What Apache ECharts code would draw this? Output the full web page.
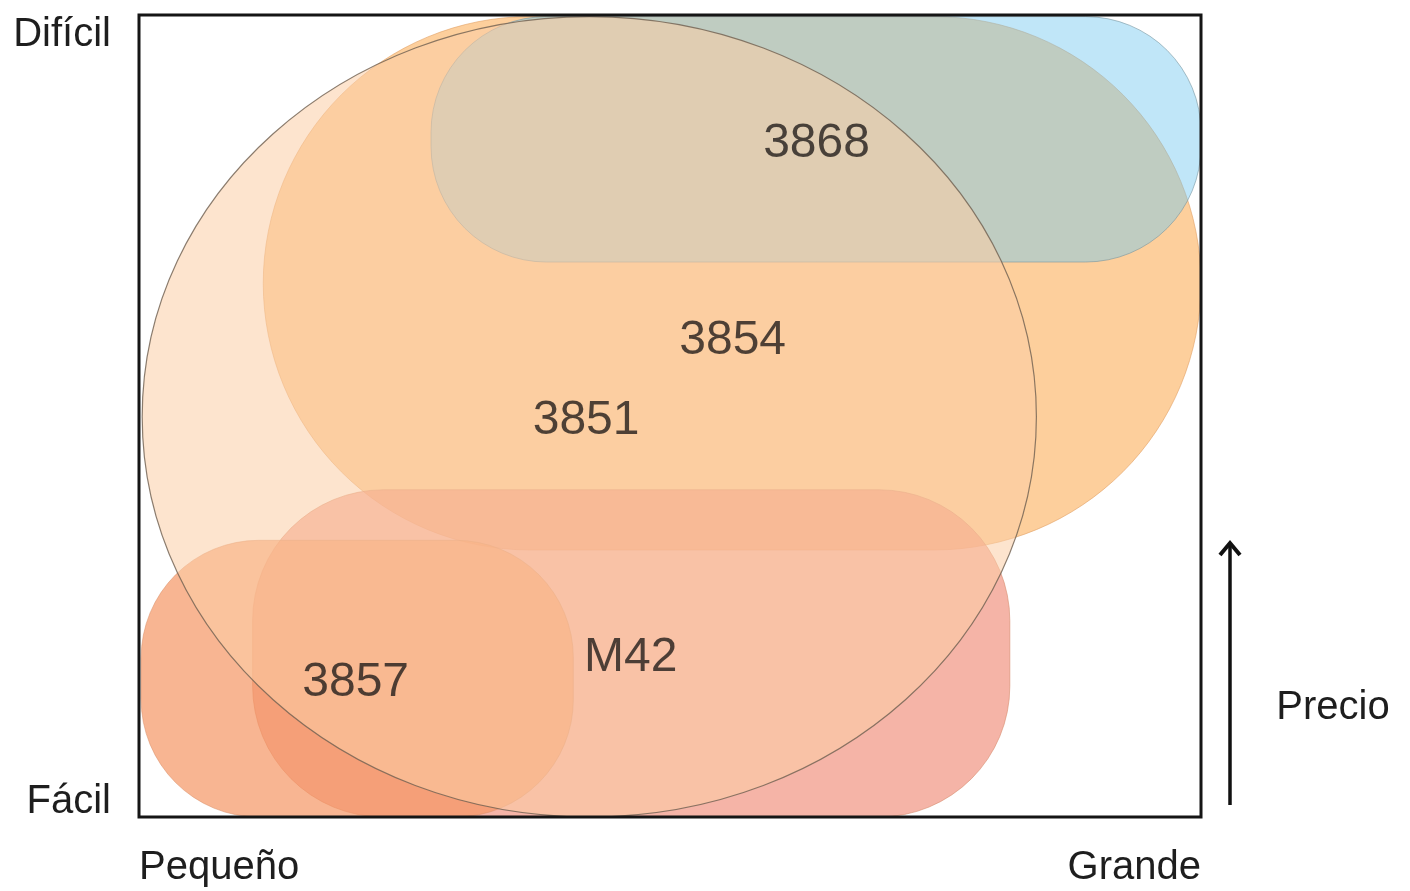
<!DOCTYPE html>
<html>
<head>
<meta charset="utf-8">
<script src="https://cdn.jsdelivr.net/npm/echarts@6/dist/echarts.min.js"></script>
<style>
  html, body { margin: 0; padding: 0; background: #fff; }
  #chart { width: 1410px; height: 891px; }
</style>
</head>
<body>
<div id="chart"></div>
<script>
// productos, en orden de dibujo (el de abajo primero)
const shapeNames = ['3854', '3868', 'M42', '3857', '3851'];
// extension en tamano (x) y dificultad/precio (y), escala 0-100
const xFrom = [11.7, 27.5, 10.7, 0.2, 0.3];
const xTo   = [100, 100, 82.0, 40.9, 84.5];
const yFrom = [33.3, 69.2, 0, 0, 0];
const yTo   = [99.8, 99.8, 40.8, 34.5, 99.8];
// donde va el nombre de cada producto
const labelX = [55.9, 63.8, 46.3, 20.4, 42.1];
const labelY = [59.4, 84.0, 19.8, 16.7, 49.4];
// textos de los extremos de los ejes
const xTickLabels = ['Pequeño', 'Grande'];
const yTickLabels = ['Fácil', 'Difícil'];

const FONT = '"Liberation Sans", Arial, sans-serif';

// forma y colores por producto
const shapeStyle = {
  '3854': { shape: 'rect', round: 1.0, fill: 'rgba(252,188,118,0.72)', stroke: 'rgba(225,160,100,0.6)', lw: 1 },
  '3868': { shape: 'rect', round: 0.94, fill: 'rgba(115,199,239,0.45)', stroke: 'rgba(120,150,160,0.6)', lw: 1 },
  'M42':  { shape: 'rect', round: 0.8, fill: 'rgba(240,140,120,0.65)', stroke: 'rgba(215,140,110,0.6)', lw: 1 },
  '3857': { shape: 'rect', round: 0.85, fill: 'rgba(245,150,100,0.7)', stroke: 'rgba(215,140,100,0.5)', lw: 1 },
  '3851': { shape: 'ellipse', fill: 'rgba(251,205,165,0.55)', stroke: 'rgba(110,95,80,0.8)', lw: 1.2 }
};

function renderShape(params, api) {
  const st = shapeStyle[shapeNames[params.dataIndex]];
  const tl = api.coord([api.value(0), api.value(3)]);
  const br = api.coord([api.value(1), api.value(2)]);
  const w = br[0] - tl[0], h = br[1] - tl[1];
  const style = { fill: st.fill, stroke: st.stroke, lineWidth: st.lw };
  if (st.shape === 'ellipse') {
    return { type: 'ellipse', shape: { cx: tl[0] + w / 2, cy: tl[1] + h / 2, rx: w / 2, ry: h / 2 }, style: style };
  }
  return { type: 'rect', shape: { x: tl[0], y: tl[1], width: w, height: h, r: st.round * Math.min(w, h) / 2 }, style: style };
}

const chart = echarts.init(document.getElementById('chart'), null, { renderer: 'canvas' });
chart.setOption({
  animation: false,
  backgroundColor: '#fff',
  grid: { left: 139, right: 209, top: 15, bottom: 74, show: true, z: 10,
          backgroundColor: 'transparent', borderColor: '#151515', borderWidth: 3 },
  xAxis: {
    type: 'value', min: 0, max: 100, interval: 100,
    axisLine: { show: false }, axisTick: { show: false }, splitLine: { show: false },
    axisLabel: {
      formatter: v => (v === 0 ? xTickLabels[0] : xTickLabels[1]),
      fontSize: 40, fontFamily: FONT, color: '#1e1e1e', margin: 31,
      alignMinLabel: 'left', alignMaxLabel: 'right'
    }
  },
  yAxis: {
    type: 'value', min: 0, max: 100, interval: 100,
    axisLine: { show: false }, axisTick: { show: false }, splitLine: { show: false },
    axisLabel: {
      formatter: v => (v === 0 ? '{lo|' + yTickLabels[0] + '}' : yTickLabels[1]),
      fontSize: 40, fontFamily: FONT, color: '#1e1e1e', margin: 28,
      verticalAlignMinLabel: 'bottom', verticalAlignMaxLabel: 'top',
      rich: { lo: { fontSize: 40, fontFamily: FONT, color: '#1e1e1e', lineHeight: 30 } }
    }
  },
  series: [
    {
      type: 'custom',
      renderItem: renderShape,
      encode: { x: [0, 1], y: [2, 3] },
      data: shapeNames.map((n, i) => [xFrom[i], xTo[i], yFrom[i], yTo[i]]),
      z: 2
    },
    {
      type: 'scatter',
      symbolSize: 0,
      z: 5,
      data: shapeNames.map((n, i) => ({ name: n, value: [labelX[i], labelY[i]] })),
      label: { show: true, position: 'inside', formatter: p => p.name,
               fontSize: 48, fontFamily: FONT, color: '#221d1a' }
    }
  ],
  graphic: [
    { type: 'line', shape: { x1: 1230, y1: 805, x2: 1230, y2: 544 }, style: { stroke: '#111', lineWidth: 3.5 } },
    { type: 'polyline', shape: { points: [[1220, 555], [1230, 543], [1240, 555]] }, style: { stroke: '#111', lineWidth: 4, fill: null } },
    { type: 'text', x: 1333, y: 708, style: { text: 'Precio', font: '40px ' + FONT, fill: '#1e1e1e', align: 'center', verticalAlign: 'middle' } }
  ]
});
</script>
</body>
</html>
